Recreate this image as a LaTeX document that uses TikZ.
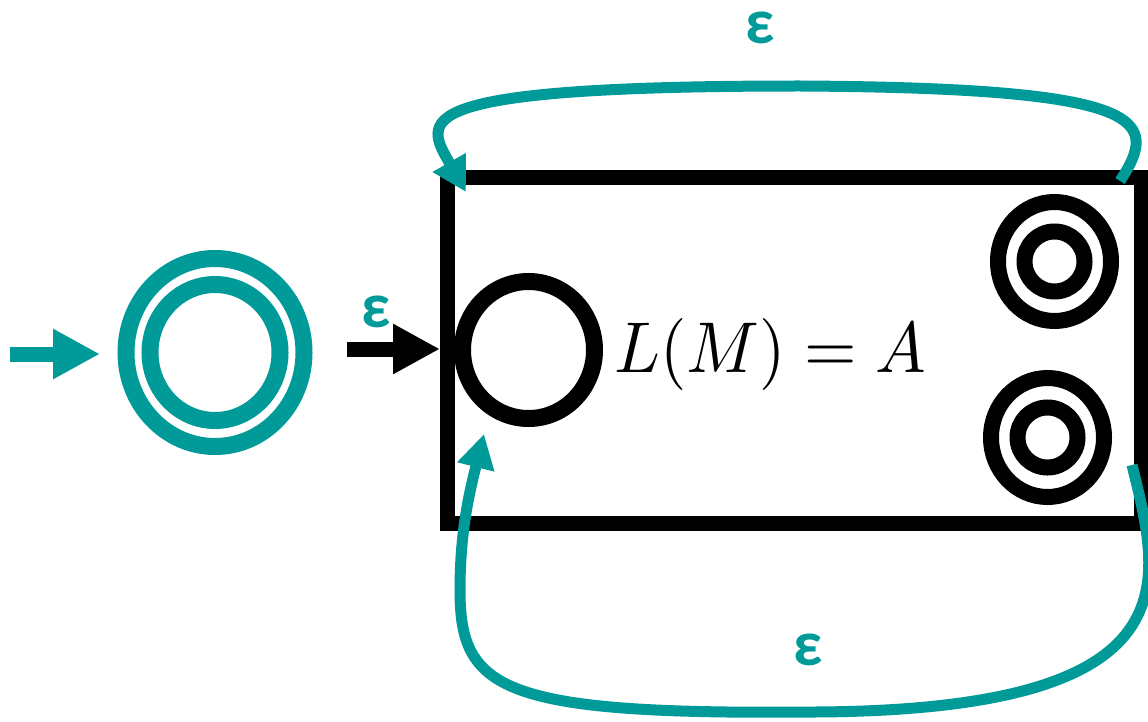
\documentclass[tikz,border=0pt]{standalone}
\usepackage{graphicx}
\usepackage{fontspec}
\newfontfamily\epsfont{Carlito}
\usetikzlibrary{arrows.meta,shapes.geometric}
\definecolor{autteal}{RGB}{0,154,152}
\begin{document}
\begin{tikzpicture}[x=1pt,y=-1pt,
  ring/.style={ellipse, draw=#1, inner sep=0pt, line width=16pt},
  epslabel/.style={text=autteal, font=\epsfont\bfseries\fontsize{64}{64}\selectfont, inner sep=0pt},
  entry/.style={line width=15pt, -{Triangle[length=47pt,width=47pt]}},
  loopedge/.style={draw=autteal, line width=11pt, -{Triangle[length=34pt,width=36pt]}}]
\useasboundingbox (0,0) rectangle (1148,722);

% machine box
\node[draw, line width=15pt, minimum width=693.5pt, minimum height=345pt, inner sep=0pt] (box) at (794.25,350.5) {};

% new start state (teal, accepting)
\node[ring=autteal, line width=17pt, minimum width=178pt, minimum height=188pt] (s) at (215,352.5) {};
\node[ring=autteal, line width=17pt, minimum width=130pt, minimum height=136pt] (si) at (215,352.5) {};

% start state of M
\node[ring=black, line width=17pt, minimum width=132pt, minimum height=137pt] (m0) at (528.5,350) {};

% accept states of M
\node[ring=black, minimum width=113pt, minimum height=119pt] (f1) at (1054.5,261.5) {};
\node[ring=black, minimum width=60pt, minimum height=60pt] (f1i) at (1054.5,261.5) {};
\node[ring=black, minimum width=113pt, minimum height=119pt] (f2) at (1047.5,437.5) {};
\node[ring=black, minimum width=60pt, minimum height=60pt] (f2i) at (1047.5,437.5) {};

% language text
\node[anchor=base west, inner sep=0pt] (lang) at (614,372) {\scalebox{6.75}[7.2]{$L(M)=A$}};

% entry arrows
\coordinate (tin) at (10,354);
\draw[entry, draw=autteal, fill=autteal, shorten >=17.5pt] (tin) -- (tin -| s.west);
\coordinate (bin) at (347,349);
\draw[entry] (bin) -- (bin -| box.west);

% epsilon loops
\coordinate (t1) at (1120,181);
\coordinate (t2) at (466,192);
\draw[loopedge] (t1) .. controls (1160,120) and (1150,88) .. (800,86)
  .. controls (400,86) and (425,120) .. (t2);
\coordinate (b1) at (1132,465);
\coordinate (b2) at (484,434);
\draw[loopedge] (b1) .. controls (1160,580) and (1200,710) .. (815,712)
  .. controls (500,715) and (460,690) .. (460,590)
  .. controls (460,530) and (470,490) .. (b2);

% labels
\node[epslabel] (e1) at (760,28) {ε};
\node[epslabel] (e2) at (376,312) {ε};
\node[epslabel] (e3) at (808,650) {ε};
\end{tikzpicture}
\end{document}
